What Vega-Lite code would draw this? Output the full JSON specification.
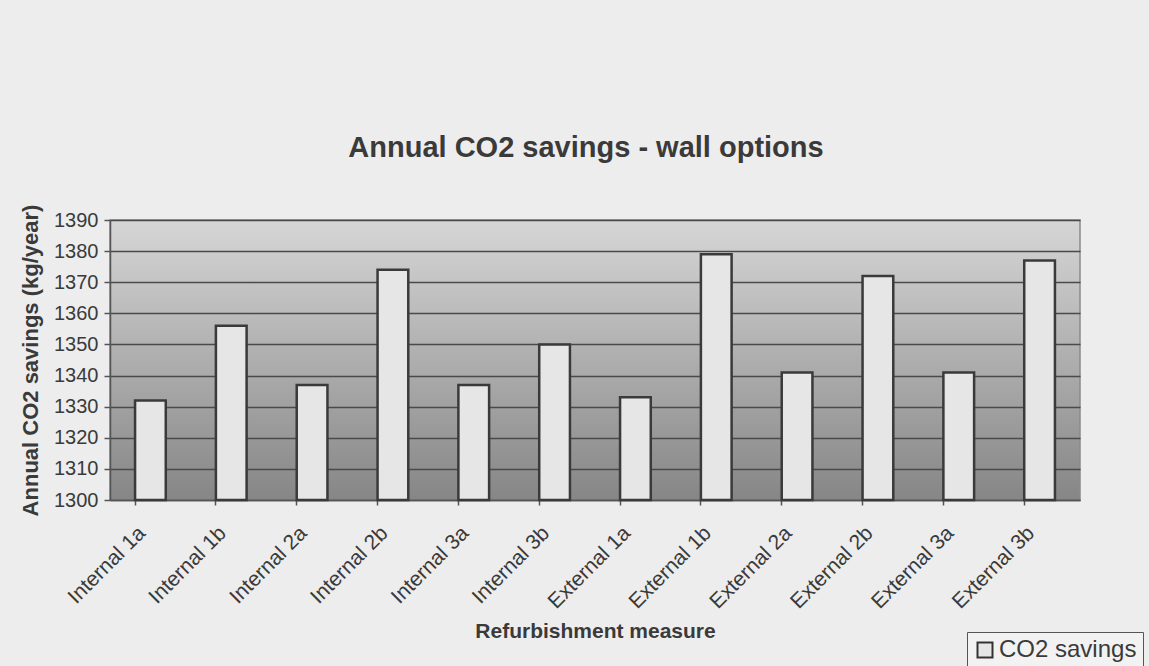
{
  "$schema": "https://vega.github.io/schema/vega-lite/v6.json",
  "autosize": "none",
  "width": 970,
  "height": 280,
  "padding": {"left": 110, "top": 220, "right": 69, "bottom": 166},
  "background": "#ededed",
  "title": {
    "text": "Annual CO2 savings - wall options",
    "font": "Liberation Sans",
    "fontSize": 29,
    "fontWeight": "bold",
    "color": "#3a3a3a",
    "anchor": "middle",
    "offset": 41,
    "dx": -9
  },
  "view": {
    "fill": {
      "gradient": "linear",
      "x1": 0, "y1": 0, "x2": 0, "y2": 1,
      "stops": [
        {"offset": 0, "color": "#d6d6d6"},
        {"offset": 1, "color": "#868686"}
      ]
    },
    "stroke": "#8a8a8a",
    "strokeWidth": 1.5
  },
  "data": {
    "values": [
      {"measure": "Internal 1a", "savings": 1332},
      {"measure": "Internal 1b", "savings": 1356},
      {"measure": "Internal 2a", "savings": 1337},
      {"measure": "Internal 2b", "savings": 1374},
      {"measure": "Internal 3a", "savings": 1337},
      {"measure": "Internal 3b", "savings": 1350},
      {"measure": "External 1a", "savings": 1333},
      {"measure": "External 1b", "savings": 1379},
      {"measure": "External 2a", "savings": 1341},
      {"measure": "External 2b", "savings": 1372},
      {"measure": "External 3a", "savings": 1341},
      {"measure": "External 3b", "savings": 1377}
    ]
  },
  "mark": {"type": "bar", "stroke": "#3a3a3a", "strokeWidth": 2.5, "fillOpacity": 1},
  "encoding": {
    "x": {
      "field": "measure",
      "type": "nominal",
      "sort": null,
      "scale": {"paddingInner": 0.62, "paddingOuter": 0.31},
      "axis": {
        "title": "Refurbishment measure",
        "titleFont": "Liberation Sans",
        "titleFontSize": 21,
        "titleFontWeight": "bold",
        "titleColor": "#3a3a3a",
        "titlePadding": 9,
        "labelAngle": -45,
        "labelFont": "Liberation Sans",
        "labelFontSize": 21,
        "labelColor": "#3a3a3a",
        "labelPadding": 17,
        "labelOffset": -16,
        "bandPosition": 0,
        "tickColor": "#555555",
        "tickSize": 5,
        "tickWidth": 1.5,
        "domainColor": "#555555",
        "domainWidth": 1.5,
        "grid": false
      }
    },
    "y": {
      "field": "savings",
      "type": "quantitative",
      "scale": {"domain": [1300, 1390], "zero": false, "nice": false},
      "axis": {
        "title": "Annual CO2 savings (kg/year)",
        "titleFont": "Liberation Sans",
        "titleFontSize": 22,
        "titleFontWeight": "bold",
        "titleColor": "#3a3a3a",
        "titlePadding": 11,
        "values": [1300, 1310, 1320, 1330, 1340, 1350, 1360, 1370, 1380, 1390],
        "format": "d",
        "labelFont": "Liberation Sans",
        "labelFontSize": 20,
        "labelColor": "#3a3a3a",
        "labelPadding": 6,
        "tickColor": "#555555",
        "tickSize": 6,
        "tickWidth": 1.5,
        "domainColor": "#555555",
        "domainWidth": 1.5,
        "grid": true,
        "gridColor": "#4a4a4a",
        "gridWidth": 1.5
      }
    },
    "y2": {"datum": 1300},
    "color": {
      "datum": "CO2 savings",
      "type": "nominal",
      "scale": {"range": ["#e6e6e6"]},
      "legend": {
        "title": null,
        "orient": "none",
        "legendX": 857,
        "legendY": 412,
        "symbolType": "square",
        "symbolSize": 225,
        "symbolStrokeColor": "#333333",
        "symbolStrokeWidth": 2,
        "labelFont": "Liberation Sans",
        "labelFontSize": 24,
        "labelColor": "#3a3a3a",
        "labelOffset": 2,
        "strokeColor": "#555555",
        "fillColor": "#f2f2f2",
        "padding": 6
      }
    }
  }
}
